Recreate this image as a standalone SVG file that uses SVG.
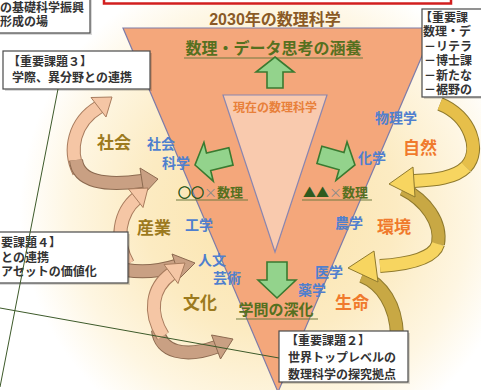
<svg xmlns="http://www.w3.org/2000/svg" xmlns:xlink="http://www.w3.org/1999/xlink" width="481" height="390" viewBox="0 0 481 390">
<defs>
<radialGradient id="glow" gradientUnits="userSpaceOnUse" cx="270" cy="210" r="250">
<stop offset="0" stop-color="#FBE2A8"/>
<stop offset="0.5" stop-color="#FCEBC2"/>
<stop offset="0.8" stop-color="#FEF6E2"/>
<stop offset="1" stop-color="#FFFFFF"/>
</radialGradient>
<path id="pL1" d="M 79 172 C 68 150, 74 122, 99 107"/>
<path id="pL2" d="M 76 160 C 78 182, 105 186, 142 181"/>
<path id="pL3" d="M 128 264 C 114 240, 120 212, 137 198"/>
<path id="pL4" d="M 126 270 C 145 273, 160 271, 176 266"/>
<path id="pL5" d="M 163 336 C 148 312, 152 288, 171 274"/>
<path id="pL6" d="M 158 330 C 160 352, 185 358, 216 347"/>
<path id="pR1a" d="M 440 104 C 470 116, 482 150, 466 167"/>
<path id="pR1b" d="M 466 167 C 455 178, 435 180, 414 181"/>
<path id="pR2a" d="M 403 189 C 425 200, 442 222, 438 244"/>
<path id="pR2b" d="M 438 244 C 434 258, 410 264, 380 266"/>
<path id="pR3" d="M 362 276 C 382 284, 396 305, 397 335"/>
</defs>
<style>
.bandO{fill:none;stroke-width:14;stroke-linecap:butt}
.bandF{fill:none;stroke-width:12;stroke-linecap:butt}
.peachO{stroke:#A87C5E}.peachF{stroke:#F5C6A5}
.tanO{stroke:#8C6A50}.tanF{stroke:#C9A083}
.goldO{stroke:#8F7A2E}.goldF{stroke:#E6BF4A}
.yelF{stroke:#F7D560}.oliveF{stroke:#C8A844}
.hPeach{fill:#F5C6A5;stroke:#A87C5E;stroke-width:1}
.hTan{fill:#C9A083;stroke:#8C6A50;stroke-width:1}
.hGold{fill:#F7D560;stroke:#8F7A2E;stroke-width:1}
.garrow{fill:#93D38C;stroke:#3A7A30;stroke-width:1.6;stroke-linejoin:miter}
.box{fill:#FFFFFF;stroke:#4A4A4A;stroke-width:1.2}
.shadow{fill:#000000;opacity:0.15}
.btxt{font-family:'Liberation Sans','Noto Sans CJK JP',sans-serif;font-size:12px;fill:#333333;font-weight:bold}
.cat{font-family:'Liberation Sans','Noto Sans CJK JP',sans-serif;font-size:17px;font-weight:bold}
.catL{fill:#9C7A1E}
.catR{fill:#F07A2C}
.blue{font-family:'Liberation Sans','Noto Sans CJK JP',sans-serif;font-size:14px;font-weight:bold;fill:#4F7FCE}
.green{font-family:'Liberation Sans','Noto Sans CJK JP',sans-serif;font-weight:bold;fill:#55701F}
.sym{font-family:'Noto Sans CJK JP',sans-serif;font-weight:bold;fill:#55701F}
.uline{stroke:#6F7A40;stroke-width:1.2}
.conn{stroke:#3D5A2A;stroke-width:1;fill:none}
</style>

<rect x="0" y="0" width="481" height="390" fill="#FFFFFF"/>
<rect x="0" y="0" width="481" height="390" fill="url(#glow)"/>

<!-- red header box (cut off) -->
<rect x="104" y="-20" width="347" height="23.5" fill="#FFFFFF" stroke="#D21F1F" stroke-width="2.5"/>

<!-- curved arrows right (gold) -->
<g id="curve-r3">
<use xlink:href="#pR3" class="bandO goldO"/><use xlink:href="#pR3" class="bandF oliveF"/>
</g>
<g id="curve-r2">
<use xlink:href="#pR2a" class="bandO goldO"/><use xlink:href="#pR2b" class="bandO goldO"/>
<use xlink:href="#pR2a" class="bandF oliveF"/><use xlink:href="#pR2b" class="bandF yelF"/>
<polygon class="hGold" points="348,268 374,251 378,282"/>
</g>
<g id="curve-r1">
<use xlink:href="#pR1a" class="bandO goldO"/><use xlink:href="#pR1b" class="bandO goldO"/>
<use xlink:href="#pR1a" class="bandF goldF"/><use xlink:href="#pR1b" class="bandF yelF"/>
<polygon class="hGold" points="389,184 413,167 415,197"/>
</g>

<!-- curved arrows left (peach / tan) -->
<g id="curve-l1">
<use xlink:href="#pL1" class="bandO peachO"/><use xlink:href="#pL1" class="bandF peachF"/>
<polygon class="hPeach" points="112,97 106,117 91,97.5"/>
</g>
<g id="curve-l2">
<use xlink:href="#pL2" class="bandO tanO"/><use xlink:href="#pL2" class="bandF tanF"/>
<polygon class="hTan" points="158,179 144,194 140,168"/>
</g>
<g id="curve-l3">
<use xlink:href="#pL3" class="bandO peachO"/><use xlink:href="#pL3" class="bandF peachF"/>
<polygon class="hPeach" points="148,188 143,207.5 128.5,189"/>
</g>
<g id="curve-l4">
<use xlink:href="#pL4" class="bandO tanO"/><use xlink:href="#pL4" class="bandF tanF"/>
<polygon class="hTan" points="195,263 180,278 172,254"/>
</g>
<g id="curve-l6">
<use xlink:href="#pL6" class="bandO tanO"/><use xlink:href="#pL6" class="bandF tanF"/>
<polygon class="hTan" points="233,339 220.5,359 211.5,335"/>
</g>
<g id="curve-l5">
<use xlink:href="#pL5" class="bandO peachO"/><use xlink:href="#pL5" class="bandF peachF"/>
<polygon class="hPeach" points="185,263 178,283.5 164,264.5"/>
</g>

<!-- big inverted triangle -->
<g id="future-math">
<polygon points="123,28 434,28 278,392" fill="#F4A77B" stroke="#7E7CA8" stroke-width="1.2"/>
<text x="275" y="25" text-anchor="middle" font-family="'Liberation Sans','Noto Sans CJK JP',sans-serif" font-size="16" font-weight="bold" fill="#8A5A26">2030年の数理科学</text>
</g>

<!-- inner triangle -->
<g id="current-math">
<polygon points="223,95 327,95 275,252" fill="#F9CAAE" stroke="#8A86B0" stroke-width="1.2"/>
<text x="275" y="112" text-anchor="middle" font-family="'Liberation Sans','Noto Sans CJK JP',sans-serif" font-size="12" font-weight="bold" fill="#E8803A">現在の数理科学</text>
</g>

<!-- green arrows and their labels -->
<g id="cultivation">
<text class="green" x="273.5" y="54" text-anchor="middle" font-size="16">数理・データ思考の涵養</text>
<line class="uline" x1="184" y1="58" x2="363" y2="58"/>
<polygon class="garrow" points="275,57 294,72 283,72 283,88 267,88 267,72 256,72"/>
</g>
<g id="deepening">
<polygon class="garrow" points="267,262 287,262 287,280 296,280 277,298 258,280 267,280"/>
<text class="green" x="276" y="315" text-anchor="middle" font-size="15">学問の深化</text>
<line class="uline" x1="236" y1="319" x2="318" y2="319"/>
</g>
<g id="oo-math">
<polygon class="garrow" points="21,0 7,-20 7,-9 -16,-9 -16,9 7,9 7,20" transform="translate(215.4,160.1) rotate(166.5)"/>
<text class="sym" x="178" y="197" font-size="13"><tspan fill="#2F5A1E" stroke="#2F5A1E" stroke-width="0.6">○○</tspan><tspan fill="#8A8A8A" font-weight="normal">×</tspan><tspan>数理</tspan></text>
<line class="uline" x1="176" y1="200" x2="248" y2="200"/>
</g>
<g id="tt-math">
<polygon class="garrow" points="21,0 7,-20 7,-9 -16,-9 -16,9 7,9 7,20" transform="translate(334.8,159.2) rotate(16)"/>
<text class="sym" x="303" y="197" font-size="13"><tspan fill="#2F5A1E">▲▲</tspan><tspan fill="#8A8A8A" font-weight="normal">×</tspan><tspan>数理</tspan></text>
<line class="uline" x1="302" y1="200" x2="372" y2="200"/>
</g>

<!-- field labels -->
<g id="society"><text class="cat catL" x="97" y="149">社会</text></g>
<g id="industry"><text class="cat catL" x="137" y="234">産業</text></g>
<g id="culture"><text class="cat catL" x="183" y="309">文化</text></g>
<g id="nature"><text class="cat catR" x="403" y="154">自然</text></g>
<g id="environment"><text class="cat catR" x="377" y="233">環境</text></g>
<g id="life"><text class="cat catR" x="335" y="309">生命</text></g>

<g id="disciplines">
<text class="blue" x="147" y="149">社会</text>
<text class="blue" x="162" y="168">科学</text>
<text class="blue" x="185" y="230">工学</text>
<text class="blue" x="198" y="265">人文</text>
<text class="blue" x="213" y="283">芸術</text>
<text class="blue" x="315" y="277">医学</text>
<text class="blue" x="298" y="295">薬学</text>
<text class="blue" x="335" y="228">農学</text>
<text class="blue" x="358" y="163">化学</text>
<text class="blue" x="375" y="123">物理学</text>
</g>

<!-- boxes -->
<g id="box-top-left">
<rect class="shadow" x="-10" y="-10" width="102" height="45"/>
<rect class="box" x="-10" y="-10" width="100" height="43"/>
<text class="btxt" x="0" y="12" font-size="11.5">の基礎科学振興</text>
<text class="btxt" x="0" y="25.5" font-size="11.5">形成の場</text>
</g>
<g id="box-issue3">
<rect class="shadow" x="5" y="53" width="147" height="38"/>
<rect class="box" x="3" y="51" width="147" height="38"/>
<text class="btxt" x="8" y="66">【重要課題３】</text>
<text class="btxt" x="12" y="81.5">学際、異分野との連携</text>
</g>
<g id="box-issue4">
<rect class="shadow" x="-8" y="234" width="138" height="51"/>
<rect class="box" x="-10" y="232" width="138" height="51"/>
<text class="btxt" x="1" y="247">要課題４】</text>
<text class="btxt" x="1" y="262">との連携</text>
<text class="btxt" x="1" y="276">アセットの価値化</text>
</g>
<g id="box-issue1">
<rect class="shadow" x="424" y="11" width="70" height="88"/>
<rect class="box" x="422" y="9" width="70" height="88"/>
<text class="btxt" x="420" y="22">【重要課</text>
<text class="btxt" x="423" y="36">数理・デ</text>
<text class="btxt" x="424" y="51">－リテラ</text>
<text class="btxt" x="424" y="65">－博士課</text>
<text class="btxt" x="424" y="80">－新たな</text>
<text class="btxt" x="424" y="94">－裾野の</text>
</g>
<g id="box-issue2">
<rect class="shadow" x="281" y="333" width="129" height="51"/>
<rect class="box" x="279" y="331" width="129" height="51"/>
<text class="btxt" x="286" y="345">【重要課題２】</text>
<text class="btxt" x="288" y="362">世界トップレベルの</text>
<text class="btxt" x="288" y="378.5">数理科学の探究拠点</text>
</g>

<!-- connectors -->
<g id="connectors">
<line class="conn" x1="58" y1="89" x2="0" y2="387"/>
<line class="conn" x1="0" y1="308" x2="279" y2="358"/>
</g>
</svg>
